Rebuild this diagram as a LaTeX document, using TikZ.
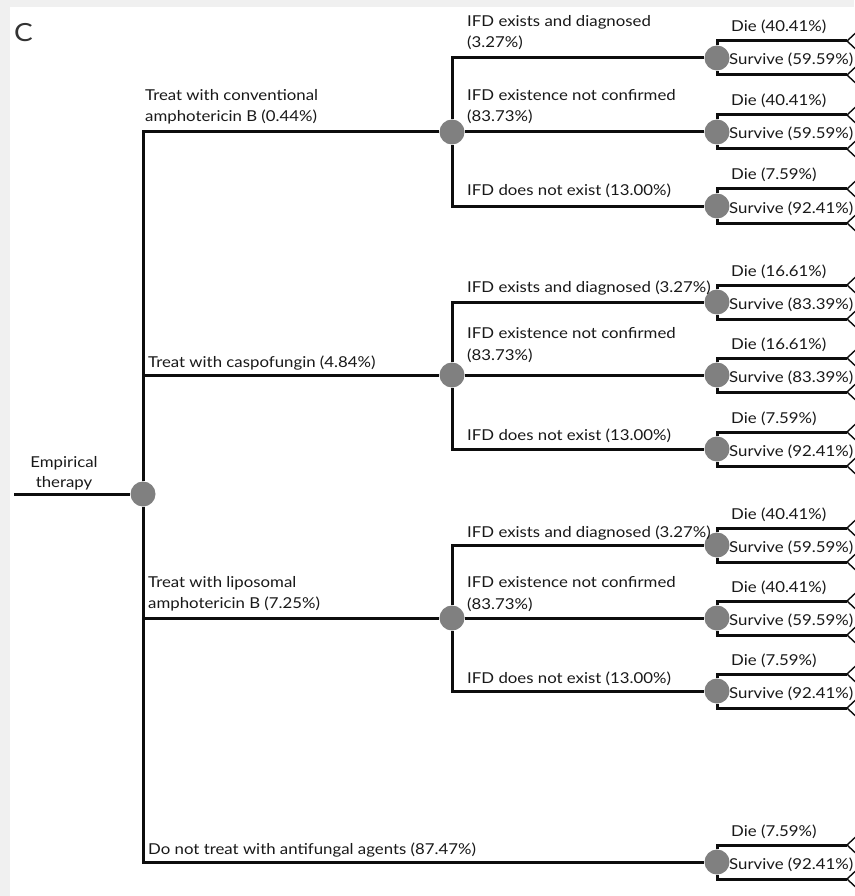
\documentclass[tikz,border=0pt]{standalone}
\usepackage{fontspec}
\setmainfont{Lato}[FakeStretch=1.12]
\begin{document}
\begin{tikzpicture}[x=1pt,y=-1pt,
  edge/.style={line width=3pt, black!95},
  tri/.style={line width=1.4pt, black!95},
  chance/.style={circle, fill=black!50, minimum size=25pt, inner sep=0pt},
  lbl/.style={anchor=base west, inner sep=0pt, font=\fontsize{15}{17}\selectfont, text=black!90},
  clbl/.style={anchor=base, inner sep=0pt, font=\fontsize{15}{17}\selectfont, text=black!90}]
\useasboundingbox (0,0) rectangle (854,896);
\fill[black!6] (0,0) rectangle (854,896);
\fill[white] (10,7) rectangle (860,900);
\node[anchor=base west, inner sep=0pt, font=\fontsize{25}{28}\selectfont, text=black!80] (panel) at (14,42) {C};

% root
\coordinate (start) at (14,494);
\node[chance] (r) at (143,494) {};
\node[chance] (c1) at (452,132) {};
\node[chance] (c2) at (452,375) {};
\node[chance] (c3) at (452,618) {};

\foreach \n/\y/\d/\s in {t11/58/40.41/59.59, t12/132/40.41/59.59, t13/206/7.59/92.41,
                         t21/302/16.61/83.39, t22/375/16.61/83.39, t23/449/7.59/92.41,
                         t31/545/40.41/59.59, t32/618/40.41/59.59, t33/691/7.59/92.41,
                         t4/862/7.59/92.41}{
  \node[chance] (\n) at (717,\y) {};
  \coordinate (\n-d) at (847,{\y-17});
  \coordinate (\n-s) at (847,{\y+17});
  \coordinate (\n-du) at (862,{\y-31});
  \coordinate (\n-dl) at (862,{\y-3});
  \coordinate (\n-su) at (862,{\y+3});
  \coordinate (\n-sl) at (862,{\y+31});
  \draw[edge] (\n) |- (\n-d);
  \draw[edge] (\n) |- (\n-s);
  \draw[tri] (\n-du) -- (\n-d) -- (\n-dl);
  \draw[tri] (\n-su) -- (\n-s) -- (\n-sl);
  \node[lbl] (\n-dt) at (731,{\y-26}) {Die (\d\%)};
  \node[lbl] (\n-st) at (729,{\y+7}) {Survive (\s\%)};
}

\draw[edge] (start) -- (r);
\draw[edge] (r) |- (c1);
\draw[edge] (r) |- (c2);
\draw[edge] (r) |- (c3);
\draw[edge] (r) |- (t4);

\draw[edge] (c1) |- (t11);
\draw[edge] (c1) -- (t12);
\draw[edge] (c1) |- (t13);
\draw[edge] (c2) |- (t21);
\draw[edge] (c2) -- (t22);
\draw[edge] (c2) |- (t23);
\draw[edge] (c3) |- (t31);
\draw[edge] (c3) -- (t32);
\draw[edge] (c3) |- (t33);

% labels
\node[clbl] (rl1) at (64,467) {Empirical};
\node[clbl] (rl2) at (64,487) {therapy};

\node[lbl] (b1a) at (145,101) {Treat with conventional};
\node[lbl] (b1b) at (145,122) {amphotericin B (0.44\%)};
\node[lbl] (b2) at (148,367) {Treat with caspofungin (4.84\%)};
\node[lbl] (b3a) at (148,587) {Treat with liposomal};
\node[lbl] (b3b) at (148,608) {amphotericin B (7.25\%)};
\node[lbl] (b4) at (148,854) {Do not treat with antifungal agents (87.47\%)};

\node[lbl] (g1a) at (467,27) {IFD exists and diagnosed};
\node[lbl] (g1b) at (467,48) {(3.27\%)};
\node[lbl] (g1c) at (467,101) {IFD existence not confirmed};
\node[lbl] (g1d) at (467,122) {(83.73\%)};
\node[lbl] (g1e) at (467,196) {IFD does not exist (13.00\%)};

\node[lbl] (g2a) at (467,292) {IFD exists and diagnosed (3.27\%)};
\node[lbl] (g2c) at (467,338) {IFD existence not confirmed};
\node[lbl] (g2d) at (467,360) {(83.73\%)};
\node[lbl] (g2e) at (467,440) {IFD does not exist (13.00\%)};

\node[lbl] (g3a) at (467,537) {IFD exists and diagnosed (3.27\%)};
\node[lbl] (g3c) at (467,587) {IFD existence not confirmed};
\node[lbl] (g3d) at (467,609) {(83.73\%)};
\node[lbl] (g3e) at (467,683) {IFD does not exist (13.00\%)};
\end{tikzpicture}
\end{document}
